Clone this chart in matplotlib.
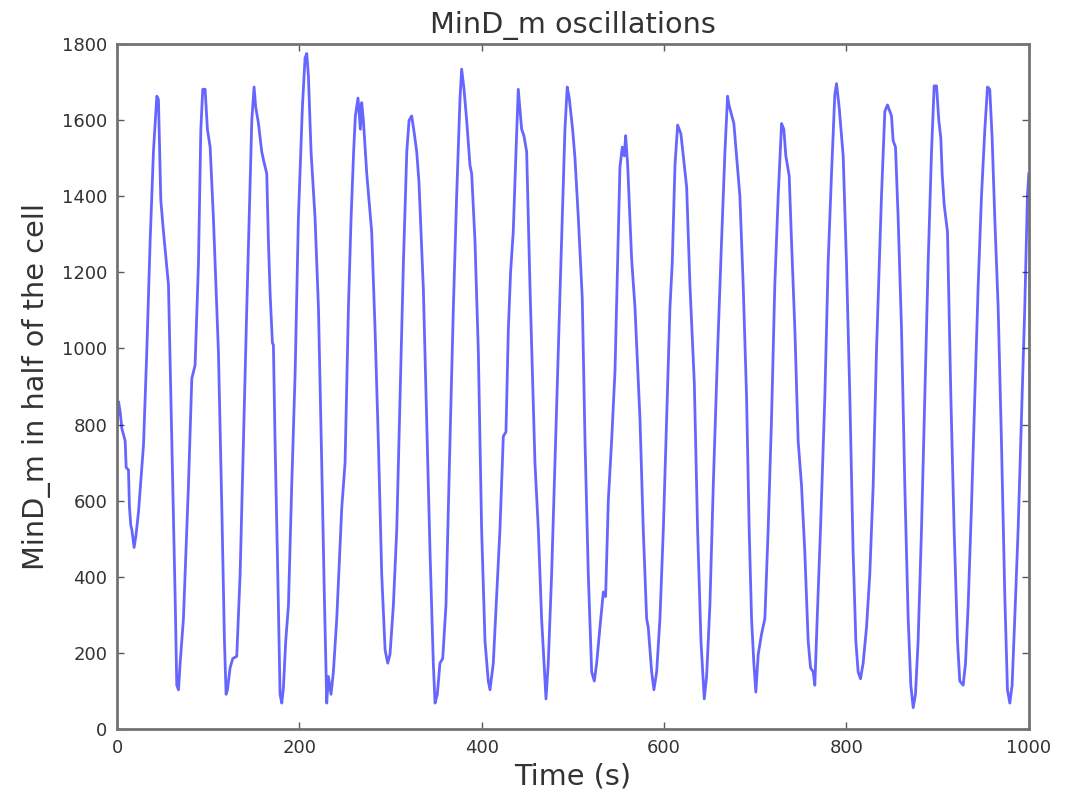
import matplotlib
matplotlib.use("Agg")
import matplotlib.pyplot as plt

# Time (s) and MinD_m values
time_s = [
    0.0, 1.5, 3.5, 5.1, 8.8, 9.9, 12.4, 13.5, 15.0, 16.1, 18.6, 20.8, 23.4, 27.0, 28.9,
    32.5, 36.2, 39.8, 43.5, 45.3, 47.9, 50.8, 56.3, 60.0, 63.6, 65.4, 67.3, 69.1, 72.7,
    78.2, 81.9, 85.5, 89.2, 91.8, 93.9, 96.5, 99.0, 102.0, 105.6, 111.1, 114.8, 117.7,
    119.5, 121.0, 123.9, 126.8, 131.2, 134.9, 138.5, 142.2, 147.7, 150.2, 152.0, 154.9,
    158.6, 161.2,
    164.1, 165.9, 167.8, 170.3, 171.4, 173.2, 176.2, 178.7, 180.6, 182.4, 184.9, 187.9,
    191.5, 195.2, 198.8, 203.2, 206.1, 208.0, 209.8, 212.7, 217.1, 220.8, 224.4, 227.3,
    229.9, 231.7, 234.6, 237.2, 240.9, 246.4, 250.0, 253.7, 256.6, 259.4, 261.3, 264.2,
    266.8, 268.3, 270.1, 273.8, 276.3, 279.2, 282.9, 286.5, 290.2, 293.9, 296.8, 299.3,
    303.0, 306.7, 310.3, 314.0, 317.7, 320.2, 323.1, 326.0, 328.6, 331.1,
    335.9, 339.5, 343.2, 346.8, 348.7, 351.2, 354.1, 357.1, 360.7, 365.1, 368.8, 372.4,
    376.1, 377.9, 380.5, 383.4, 387.0, 388.9, 392.5, 396.2, 399.8, 403.5, 407.1, 409.0,
    412.6, 416.3, 419.9, 423.6, 426.5, 429.1, 431.6, 434.5, 437.5, 440.0, 443.7, 446.2,
    449.2, 452.8, 458.3, 462.0, 465.6, 470.4, 472.9, 476.6, 480.2, 483.9, 487.5, 491.2,
    493.7, 495.9, 499.6,
    502.2, 505.9, 510.2, 513.2, 516.8, 520.5, 523.4, 526.0, 529.6, 533.3, 535.8, 538.8,
    542.4, 546.1, 549.0, 551.5, 554.1, 556.3, 557.8, 560.0, 561.4, 564.3, 568.0, 573.5,
    577.1, 580.8, 582.6, 586.3, 588.8, 591.8, 595.4, 599.1, 602.7, 606.4, 608.9, 611.9,
    614.8, 618.4, 621.0, 624.7, 628.3, 633.1, 636.7, 640.4, 644.0, 646.6, 650.2, 653.9,
    658.6, 663.0, 666.7, 669.6, 671.1,
    673.9, 676.5, 679.4, 683.1, 686.7, 690.4, 693.3, 695.9, 698.4, 700.6, 703.2, 706.8,
    710.5, 714.1, 717.8, 721.4, 725.1, 728.8, 731.3, 733.5, 737.2, 739.7, 743.4, 747.0,
    750.7, 754.3, 758.0, 760.6, 763.5, 765.3, 767.9, 771.5, 776.3, 779.9, 783.6, 787.2,
    789.1, 792.0, 796.4, 800.0, 803.7, 807.3, 810.3, 812.8, 815.4, 818.3, 822.0, 825.6,
    829.3, 832.9, 838.4,
    842.1, 845.0, 847.6, 849.4, 851.2, 853.8, 856.7, 860.4, 864.0, 867.7, 870.6, 873.2,
    875.7, 878.6, 882.3, 885.9, 889.6, 893.3, 896.2, 898.8, 901.3, 903.5, 905.0, 907.2,
    910.8, 914.5, 918.1, 921.8, 924.3, 928.0, 930.6, 933.5, 937.1, 940.8, 944.5, 948.1,
    951.8, 954.7, 957.2, 959.8, 962.7, 966.4, 970.0, 973.7, 976.6, 979.2, 981.7, 984.6,
    988.3, 991.9, 995.6, 998.5, 1000.0,
]

mind_m = [
    800, 860, 830, 790, 757, 687, 681, 582, 535, 524, 477, 512, 570, 687, 746,
    991, 1283, 1517, 1663, 1654, 1389, 1307, 1167, 757, 348, 115, 103, 173, 290,
    640, 921, 956, 1225, 1576, 1681, 1681, 1576, 1529, 1342, 991, 582, 231,
    91, 103, 161, 185, 191, 407, 757, 1108, 1599, 1687, 1634, 1593,
    1517, 1488,
    1460, 1283, 1143, 1015, 1009, 757, 407, 91, 68, 109, 231, 325,
    640, 933, 1342, 1634, 1763, 1775, 1716, 1517, 1342, 1108, 699, 348,
    68, 138, 91, 150, 290, 582, 699, 1108, 1342, 1517, 1611, 1658,
    1576, 1646, 1599, 1459, 1389, 1307, 1050, 757, 407, 208, 173, 196,
    325, 524, 874, 1225, 1517, 1599, 1611, 1564, 1517, 1436,
    1155, 815, 465, 173, 68, 91, 173, 185, 325, 757, 1108, 1400,
    1658, 1734, 1681, 1599, 1482, 1459, 1283, 991, 524, 231, 126, 103,
    173, 348, 524, 769, 781, 1050, 1202, 1307, 1517, 1681, 1576, 1559,
    1517, 1167, 699, 524, 290, 79, 173, 407, 699, 991, 1283, 1576,
    1687, 1658, 1576,
    1500, 1342, 1132, 757, 407, 150, 126, 173, 267, 360, 348, 602,
    757, 941, 1225, 1476, 1529, 1506, 1559, 1482, 1400, 1237, 1108, 815,
    524, 290, 267, 150, 103, 150, 290, 524, 815, 1108, 1225, 1482,
    1587, 1564, 1506, 1424, 1167, 909, 524, 231, 79, 138, 325, 640,
    991, 1283, 1517, 1663, 1640,
    1614, 1591, 1506, 1400, 1167, 874, 524, 290, 173, 97, 196, 249,
    290, 524, 815, 1167, 1400, 1591, 1576, 1506, 1453, 1283, 1050, 757,
    640, 465, 231, 161, 150, 115, 290, 524, 874, 1225, 1459, 1666,
    1696, 1634, 1506, 1225, 874, 465, 231, 150, 132, 173, 267, 407,
    640, 991, 1400,
    1623, 1640, 1623, 1611, 1546, 1529, 1342, 1050, 640, 290, 115, 56,
    91, 231, 524, 874, 1225, 1517, 1690, 1690, 1599, 1553, 1459, 1377,
    1307, 874, 524, 231, 126, 115, 173, 325, 582, 874, 1167, 1400,
    1576, 1687, 1681, 1553, 1342, 1108, 757, 348, 103, 68, 115, 290,
    524, 815, 1108, 1400, 1459,
]

x_ticks = [0, 200, 400, 600, 800, 1000]
y_ticks = [0, 200, 400, 600, 800, 1000, 1200, 1400, 1600, 1800]

fig = plt.figure(figsize=(10.65, 7.96), dpi=100, facecolor="white")
ax = fig.add_axes([0.110, 0.0842, 0.856, 0.8605])
ax.plot(time_s, mind_m, color="blue", alpha=0.6, linewidth=2.0)

ax.set_xlim(0, 1000)
ax.set_ylim(0, 1800)
ax.set_xticks(x_ticks)
ax.set_yticks(y_ticks)
ax.tick_params(direction="in", top=True, right=True, length=5, width=1,
               labelsize=13, color="0.35", labelcolor="0.2", pad=7)
for sp in ax.spines.values():
    sp.set_color("0.45")
    sp.set_linewidth(2.0)

ax.set_title("MinD_m oscillations", fontsize=20.7, color="0.2", pad=8)
ax.set_xlabel("Time (s)", fontsize=20.7, color="0.2", labelpad=4)
ax.set_ylabel("MinD_m in half of the cell", fontsize=20.7, color="0.2", labelpad=8)

fig.savefig("out.png", dpi=100, facecolor="white")
